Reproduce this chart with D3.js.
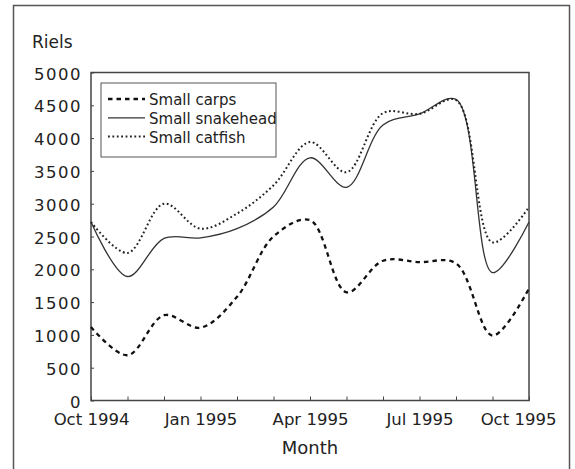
<!DOCTYPE html>
<html>
<head>
<meta charset="utf-8">
<script src="https://cdn.jsdelivr.net/npm/d3@7"></script>
<style>
  body { margin: 0; background: #fff; }
  svg text { font-family: "DejaVu Sans", sans-serif; fill: #222; }
</style>
</head>
<body>
<script>
"use strict";

// monthly prices, Oct 1994 .. Oct 1995
let months = ["Oct 1994", "Nov 1994", "Dec 1994", "Jan 1995", "Feb 1995", "Mar 1995", "Apr 1995",
	"May 1995", "Jun 1995", "Jul 1995", "Aug 1995", "Sep 1995", "Oct 1995"];

let smallCarps     = [1120, 690, 1300, 1110, 1580, 2500, 2750, 1650, 2130, 2110, 2090, 990, 1710];
let smallSnakehead = [2720, 1890, 2470, 2480, 2620, 2950, 3700, 3250, 4200, 4370, 4590, 1950, 2720];
let smallCatfish   = [2720, 2250, 3000, 2620, 2850, 3280, 3940, 3480, 4380, 4370, 4580, 2410, 2950];

let seriesNames = ["Small carps", "Small snakehead", "Small catfish"];
let yTicks = [0, 500, 1000, 1500, 2000, 2500, 3000, 3500, 4000, 4500, 5000];
let labelledMonths = ["Oct 1994", "Jan 1995", "Apr 1995", "Jul 1995", "Oct 1995"];

function init() {

	let width = 575,
		height = 469;

	let plot = { left: 91, right: 529, top: 72.5, bottom: 400.5 };

	let svg = d3.select("body")
		.append("svg")
			.attr("width", width)
			.attr("height", height);

	// outer frame
	svg.append("rect")
		.attr("x", 13.5)
		.attr("y", 5.5)
		.attr("width", 556)
		.attr("height", 480)
		.style("fill", "none")
		.style("stroke", "#555")
		.style("stroke-width", 1.5);

	// months are evenly spaced
	let xScale = d3.scalePoint()
		.domain(months)
		.range([plot.left, plot.right]);

	let yScale = d3.scaleLinear()
		.domain([0, 5000])
		.range([plot.bottom, plot.top]);

	// plot box
	svg.append("rect")
		.attr("x", plot.left)
		.attr("y", plot.top)
		.attr("width", plot.right - plot.left)
		.attr("height", plot.bottom - plot.top)
		.style("fill", "none")
		.style("stroke", "#444")
		.style("stroke-width", 1.5);

	// axes
	let xAxis = d3.axisBottom(xScale)
		.tickSizeInner(-4)
		.tickSizeOuter(0)
		.tickPadding(13)
		.tickFormat(function (d) {
			return labelledMonths.indexOf(d) >= 0 ? d : "";
		});

	let gx = svg.append("g")
		.attr("transform", "translate(0," + plot.bottom + ")")
		.call(xAxis);

	let yAxis = d3.axisLeft(yScale)
		.tickValues(yTicks)
		.tickFormat(d3.format("d"))
		.tickSizeInner(-3)
		.tickSizeOuter(0)
		.tickPadding(9);

	let gy = svg.append("g")
		.attr("transform", "translate(" + plot.left + ",0)")
		.call(yAxis);

	[gx, gy].forEach(function (g) {
		g.select(".domain").remove();
		g.selectAll(".tick line").style("stroke", "#444").style("stroke-width", 1);
		g.selectAll(".tick text")
			.style("font-family", "DejaVu Sans")
			.style("font-size", "16.5px")
			.style("fill", "#222");
	});

	gy.selectAll(".tick text")
		.attr("dy", "0.4em")
		.style("letter-spacing", "1.5px");

	// last label is pulled in to fit the frame
	gx.selectAll(".tick text")
		.filter(function (d) { return d === "Oct 1995"; })
		.attr("x", -11);

	// axis titles
	svg.append("text")
		.attr("x", 32)
		.attr("y", 48)
		.style("font-size", "17px")
		.text("Riels");

	svg.append("text")
		.attr("x", (plot.left + plot.right) / 2)
		.attr("y", 454)
		.attr("text-anchor", "middle")
		.style("font-size", "18px")
		.text("Month");

	// lines
	let styles = [
		{ values: smallCarps,     dash: "4.5,4",   width: 2.3, color: "#111" },
		{ values: smallSnakehead, dash: null,      width: 1.3, color: "#333" },
		{ values: smallCatfish,   dash: "1.8,2.6", width: 2,   color: "#222" }
	];

	let line = d3.line()
		.x(function (d, i) { return xScale(months[i]); })
		.y(function (d) { return yScale(d); })
		.curve(d3.curveCatmullRom.alpha(0.5));

	styles.forEach(function (s) {
		svg.append("path")
			.datum(s.values)
			.attr("d", line)
			.style("fill", "none")
			.style("stroke", s.color)
			.style("stroke-width", s.width)
			.style("stroke-dasharray", s.dash);
	});

	// legend
	let legend = svg.append("g");

	legend.append("rect")
		.attr("x", 101)
		.attr("y", 83)
		.attr("width", 175)
		.attr("height", 74)
		.style("fill", "#fff")
		.style("stroke", "#555")
		.style("stroke-width", 1);

	seriesNames.forEach(function (name, i) {
		let yBase = 105 + i * 18.8;
		legend.append("line")
			.attr("x1", 108)
			.attr("x2", 145)
			.attr("y1", yBase - 6)
			.attr("y2", yBase - 6)
			.style("stroke", styles[i].color)
			.style("stroke-width", styles[i].width)
			.style("stroke-dasharray", styles[i].dash);
		legend.append("text")
			.attr("x", 149)
			.attr("y", yBase)
			.style("font-size", "15px")
			.text(name);
	});

	console.log("");
}

init();
</script>
</body>
</html>
